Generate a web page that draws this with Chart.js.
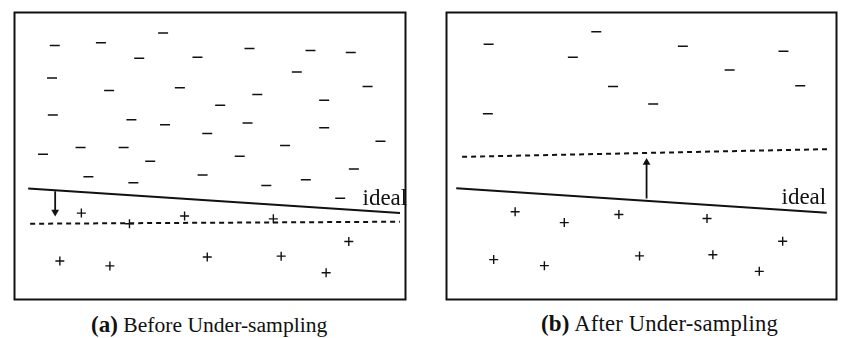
<!DOCTYPE html>
<html>
<head>
<meta charset="utf-8">
<script src="https://cdn.jsdelivr.net/npm/chart.js@4.4.1/dist/chart.umd.min.js"></script>
<style>
  html, body { margin: 0; padding: 0; background: #fff; overflow: hidden; }
  #wrap { position: relative; width: 843px; height: 338px; }
  canvas { position: absolute; }
  .cap { position: absolute; font-family: "Liberation Serif", "DejaVu Serif", serif; font-size: 21.6px; color: #111; white-space: nowrap; line-height: 1; }
  .cap b { font-size: 23px; }
  #capB { font-size: 22.6px; letter-spacing: 0.2px; }
</style>
</head>
<body>
<div id="wrap">
  <canvas id="before" width="404" height="300" style="left:8px;top:6px"></canvas>
  <canvas id="after" width="403" height="300" style="left:440px;top:6px"></canvas>
  <div class="cap" style="left:91px;top:313px"><b>(a)</b> Before Under-sampling</div>
  <div class="cap" id="capB" style="left:541px;top:312px"><b>(b)</b> After Under-sampling</div>
</div>
<script>
// all positions in percent of the panel box, y counted upward from the bottom
let negBefore = [
  [10.3,88.5],[22.1,89.5],[38.0,92.9],[31.9,84.1],[46.8,84.4],[60.1,87.5],
  [75.7,86.8],[86.0,86.1],[9.6,77.2],[24.2,72.8],[42.3,73.8],[62.1,71.4],
  [72.2,79.3],[90.3,74.2],[79.2,69.4],[52.6,67.7],[9.8,64.3],[29.9,62.6],
  [38.5,60.9],[59.6,61.5],[79.2,59.8],[49.3,57.8],[16.9,53.0],[27.9,53.0],
  [7.3,50.6],[69.2,53.7],[93.6,55.1],[34.7,48.2],[57.6,49.9],[86.8,45.5],
  [18.9,42.8],[30.4,40.7],[48.1,43.4],[64.4,39.7],[74.5,41.7],[83.3,35.3]
];
let posBefore = [
  [17.1,30.1],[29.4,26.4],[43.5,29.1],[66.2,28.1],[85.5,20.2],
  [11.6,13.4],[24.4,11.7],[49.3,14.8],[68.2,15.1],[79.7,9.3]
];
let negAfter = [
  [10.8,88.9],[38.4,93.3],[32.4,84.4],[60.6,88.2],[86.4,86.5],
  [72.6,80.0],[42.7,74.2],[53.0,68.1],[10.6,64.7],[90.7,74.5]
];
let posAfter = [
  [17.6,30.6],[30.2,26.8],[44.2,29.6],[66.8,28.2],[86.2,20.3],
  [12.1,13.9],[25.1,11.8],[49.5,15.2],[68.3,15.6],[80.2,9.8]
];

// boundaries, two end points each
let idealBefore = [[3.5,38.7],[98.6,30.1]];
let idealAfter = [[2.5,38.8],[97.5,30.2]];
let learnedBefore = [[4.0,26.4],[98.6,27.1]];
let learnedAfter = [[4.0,49.7],[98.0,52.4]];
// arrow: tail, head centre
let arrowBefore = [[10.4,37.7],[10.4,30.5]];
let arrowAfter = [[51.3,35.2],[51.3,47.7]];

let lineLabel = "ideal";
let labelBefore = [89.0,33.0];
let labelAfter = [85.9,33.3];

const ink = '#111';

function pts(list) {
  return list.map(p => ({x: p[0], y: p[1]}));
}

const decor = {
  id: 'decor',
  afterDraw(chart, args, opts) {
    const ctx = chart.ctx;
    const a = chart.chartArea;
    ctx.save();
    ctx.strokeStyle = ink;
    ctx.lineWidth = 2;
    ctx.strokeRect(a.left, a.top, a.right - a.left, a.bottom - a.top);
    ctx.font = '23px "Liberation Serif"';
    ctx.fillStyle = ink;
    ctx.textBaseline = 'alphabetic';
    ctx.fillText(opts.text, chart.scales.x.getPixelForValue(opts.at[0]), chart.scales.y.getPixelForValue(opts.at[1]));
    ctx.restore();
  }
};

function makePanel(id, neg, pos, ideal, learned, arrow, rot, labelAt, pad) {
  new Chart(document.getElementById(id), {
    type: 'scatter',
    data: {
      datasets: [
        { data: pts(neg), pointStyle: 'line', pointRadius: 5, borderWidth: 1.5, borderColor: ink },
        { data: pts(pos), pointStyle: 'cross', pointRadius: 4.5, borderWidth: 1.4, borderColor: ink },
        { data: pts(ideal), showLine: true, pointRadius: 0, borderWidth: 2, borderColor: ink },
        { data: pts(learned), showLine: true, pointRadius: 0, borderWidth: 2, borderColor: ink, borderDash: [5, 4] },
        { data: pts(arrow), showLine: true, borderWidth: 1.8, borderColor: ink,
          pointStyle: 'triangle', pointRadius: [0, 4.5], rotation: rot,
          pointBackgroundColor: ink, pointBorderWidth: 0 }
      ]
    },
    options: {
      responsive: false,
      animation: false,
      layout: { padding: pad },
      scales: {
        x: { type: 'linear', min: 0, max: 100, display: false },
        y: { type: 'linear', min: 0, max: 100, display: false }
      },
      plugins: {
        legend: { display: false },
        tooltip: { enabled: false },
        decor: { text: lineLabel, at: labelAt }
      }
    },
    plugins: [decor]
  });
}

makePanel('before', negBefore, posBefore, idealBefore, learnedBefore, arrowBefore, 180, labelBefore,
  {left: 3, right: 3, top: 3, bottom: 3});
makePanel('after', negAfter, posAfter, idealAfter, learnedAfter, arrowAfter, 0, labelAfter,
  {left: 3, right: 2, top: 3, bottom: 3});
</script>
</body>
</html>
